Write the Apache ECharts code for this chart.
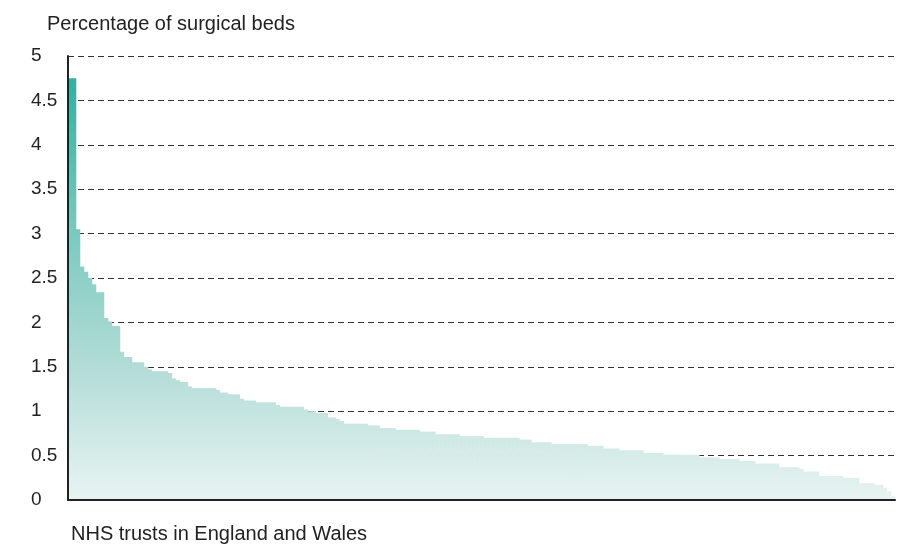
<!DOCTYPE html>
<html>
<head>
<meta charset="utf-8">
<script src="https://cdn.jsdelivr.net/npm/echarts@6/dist/echarts.min.js"></script>
<style>
html,body{margin:0;padding:0;background:#fff;}
#chart{width:901px;height:545px;}
</style>
</head>
<body>
<div id="chart"></div>
<script>
// Share of surgical beds, one value per NHS trust, sorted descending
const bedShare = [
  4.75, 4.75,
  3.05, 2.63, 2.57, 2.50, 2.43, 2.34, 2.34,
  2.05, 2.01, 1.96, 1.96,
  1.67, 1.61, 1.61, 1.55, 1.55, 1.55, 1.50, 1.47,
  1.45, 1.45, 1.45, 1.45, 1.43, 1.37, 1.35, 1.33, 1.33, 1.28,
  1.26, 1.26, 1.26, 1.26, 1.26, 1.26, 1.24, 1.21, 1.21,
  1.19, 1.19, 1.19, 1.14, 1.12, 1.12, 1.12,
  1.10, 1.10, 1.10, 1.10, 1.10, 1.07,
  1.05, 1.05, 1.05, 1.05, 1.05, 1.05, 1.02, 1.00, 1.00,
  0.98, 0.98, 0.98, 0.93, 0.93, 0.91, 0.89,
  0.86, 0.86, 0.86, 0.86, 0.86, 0.86, 0.84, 0.84, 0.84,
  0.81, 0.81, 0.81, 0.81,
  0.79, 0.79, 0.79, 0.79, 0.79, 0.79,
  0.77, 0.77, 0.77, 0.77,
  0.74, 0.74, 0.74, 0.74, 0.74, 0.74,
  0.72, 0.72, 0.72, 0.72, 0.72, 0.72,
  0.70, 0.70, 0.70, 0.70, 0.70, 0.70, 0.70, 0.70, 0.70,
  0.68, 0.68, 0.68,
  0.65, 0.65, 0.65, 0.65, 0.65,
  0.63, 0.63, 0.63, 0.63, 0.63, 0.63, 0.63, 0.63, 0.63,
  0.61, 0.61, 0.61, 0.61,
  0.58, 0.58, 0.58, 0.58,
  0.56, 0.56, 0.56, 0.56, 0.56, 0.56,
  0.53, 0.53, 0.53, 0.53, 0.53,
  0.51, 0.51, 0.51, 0.51, 0.51, 0.51, 0.51, 0.51, 0.51,
  0.48, 0.48, 0.48, 0.48, 0.48,
  0.46, 0.46, 0.46, 0.46, 0.46,
  0.44, 0.44, 0.44, 0.44,
  0.41, 0.41, 0.41, 0.41, 0.41, 0.41,
  0.37, 0.37, 0.37, 0.37, 0.37, 0.35,
  0.32, 0.32, 0.32, 0.32,
  0.27, 0.27, 0.27, 0.27, 0.27, 0.27,
  0.25, 0.25, 0.25, 0.25,
  0.19, 0.19, 0.19, 0.19, 0.17, 0.17,
  0.14, 0.10, 0.04
];
const yTicks = [0, 0.5, 1, 1.5, 2, 2.5, 3, 3.5, 4, 4.5, 5];
const yTitle = 'Percentage of surgical beds';
const xTitle = 'NHS trusts in England and Wales';

const chart = echarts.init(document.getElementById('chart'), null, {renderer: 'canvas'});
const FONT = '"Liberation Sans", Arial, Helvetica, sans-serif';
const yMin = yTicks[0], yMax = yTicks[yTicks.length - 1];
chart.setOption({
  animation: false,
  backgroundColor: '#ffffff',
  textStyle: {fontFamily: FONT},
  title: [
    {text: yTitle, left: 42, top: 9, textStyle: {fontFamily: FONT, fontSize: 20, fontWeight: 'normal', color: '#222'}},
    {text: xTitle, left: 66, top: 519, textStyle: {fontFamily: FONT, fontSize: 20, fontWeight: 'normal', color: '#222'}}
  ],
  grid: {left: 68, right: 6, top: 56, bottom: 45, containLabel: false},
  xAxis: [
    {
      type: 'category',
      boundaryGap: true,
      axisLine: {show: false},
      axisTick: {show: false},
      axisLabel: {show: false},
      splitLine: {show: false}
    },
    {
      // overlay axis: only the dark baseline, drawn above the bars
      type: 'value', position: 'bottom', min: 0, max: 1, z: 10,
      axisLine: {show: true, onZero: false, lineStyle: {color: '#222', width: 2}},
      axisTick: {show: false}, axisLabel: {show: false}, splitLine: {show: false}
    }
  ],
  yAxis: [
    {
      type: 'value',
      min: yMin, max: yMax, interval: 0.5,
      axisLine: {show: false},
      axisTick: {show: false},
      axisLabel: {
        align: 'left', margin: 37, fontSize: 19, color: '#222', fontFamily: FONT,
        padding: [4, 0, 0, 0],
        formatter: v => String(v)
      },
      splitLine: {show: true, lineStyle: {color: '#333', width: 1, type: [6, 4]}}
    },
    {
      // overlay axis: only the dark vertical line, drawn above the bars
      type: 'value', position: 'left', min: yMin, max: yMax, z: 10,
      axisLine: {show: true, onZero: false, lineStyle: {color: '#222', width: 2}},
      axisTick: {show: false}, axisLabel: {show: false}, splitLine: {show: false}
    }
  ],
  series: [{
    type: 'bar',
    xAxisIndex: 0,
    yAxisIndex: 0,
    data: bedShare,
    barWidth: 4.6,
    barGap: '0%',
    itemStyle: {
      borderWidth: 0,
      color: new echarts.graphic.LinearGradient(0, 56, 0, 500, [
        {offset: 0, color: '#27ad9c'},
        {offset: 0.45, color: '#84cdc3'},
        {offset: 0.7, color: '#b3dcd7'},
        {offset: 1, color: '#e8f4f2'}
      ], true)
    },
    emphasis: {disabled: true}
  }]
});
</script>
</body>
</html>
